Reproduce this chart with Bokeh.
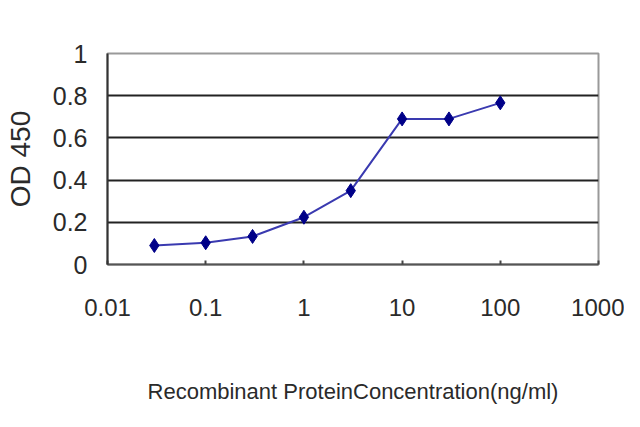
from bokeh.plotting import figure
from bokeh.models import Range1d, FixedTicker
from bokeh.embed import file_html
from bokeh.resources import INLINE

concentration = [0.03, 0.1, 0.3, 1, 3, 10, 30, 100]
od450 = [0.09, 0.103, 0.133, 0.224, 0.35, 0.69, 0.69, 0.766]
x_ticks = [0.01, 0.1, 1, 10, 100, 1000]
x_tick_labels = ["0.01", "0.1", "1", "10", "100", "1000"]
y_ticks = [0, 0.2, 0.4, 0.6, 0.8, 1]
y_tick_labels = ["0", "0.2", "0.4", "0.6", "0.8", "1"]
x_title = "Recombinant ProteinConcentration(ng/ml)"
y_title = "OD 450"

FONT = "Liberation Sans"

p = figure(width=624, height=411, x_axis_type="log",
           x_range=Range1d(0.01, 1000), y_range=Range1d(0, 1),
           output_backend="svg", toolbar_location=None,
           min_border_left=107, min_border_right=26,
           min_border_top=53, min_border_bottom=147)

p.background_fill_color = "white"
p.border_fill_color = "white"
p.outline_line_color = "#999999"
p.outline_line_width = 2

p.xgrid.visible = False
p.ygrid.ticker = FixedTicker(ticks=[0.2, 0.4, 0.6, 0.8])
p.ygrid.grid_line_color = "#222222"
p.ygrid.grid_line_width = 2

xa = p.xaxis[0]
xa.ticker = FixedTicker(ticks=x_ticks)
xa.major_label_overrides = {t: l for t, l in zip(x_ticks, x_tick_labels)}
xa.minor_tick_line_color = None
xa.major_tick_in = 4
xa.major_tick_out = 0
xa.major_tick_line_color = "#444444"
xa.major_tick_line_width = 2
xa.axis_line_color = "#555555"
xa.axis_line_width = 2
xa.major_label_standoff = 34
xa.major_label_text_font = FONT
xa.major_label_text_font_size = "24px"
xa.major_label_text_color = "#2a2a2a"
xa.axis_label = x_title
xa.axis_label_text_font = FONT
xa.axis_label_text_font_size = "22px"
xa.axis_label_text_font_style = "normal"
xa.axis_label_text_color = "#2a2a2a"
xa.axis_label_standoff = 60

ya = p.yaxis[0]
ya.ticker = FixedTicker(ticks=y_ticks)
ya.major_label_overrides = {t: l for t, l in zip(y_ticks, y_tick_labels)}
ya.minor_tick_line_color = None
ya.major_tick_in = 0
ya.major_tick_out = 0
ya.axis_line_color = "#333333"
ya.axis_line_width = 2
ya.major_label_standoff = 20
ya.major_label_text_font = FONT
ya.major_label_text_font_size = "25px"
ya.major_label_text_color = "#2a2a2a"
ya.axis_label = y_title
ya.axis_label_text_font = FONT
ya.axis_label_text_font_size = "28px"
ya.axis_label_text_font_style = "normal"
ya.axis_label_text_color = "#2a2a2a"
ya.axis_label_standoff = 14

p.line(concentration, od450, line_color="#3a3ab0", line_width=2)
p.scatter(concentration, od450, marker="diamond", size=14,
          fill_color="#000088", line_color="#000088")

open("out.html", "w").write(file_html(p, INLINE))
